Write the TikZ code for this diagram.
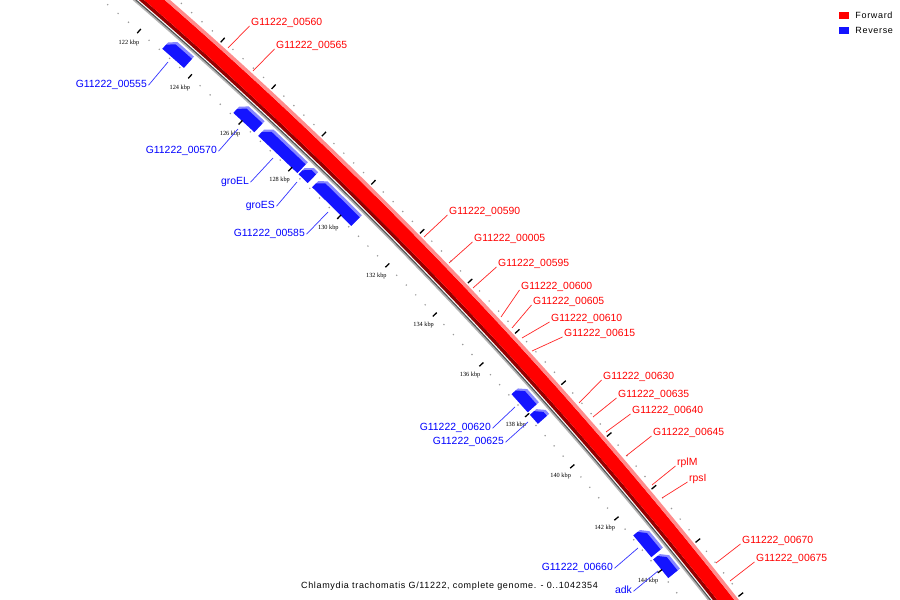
\documentclass[tikz,border=0pt]{standalone}
\usepackage{fontspec}
\setmainfont{Liberation Sans}
\newfontfamily\capfont[LetterSpace=7.5]{Liberation Sans}
\newfontfamily\kbpfont{Liberation Serif}
\usetikzlibrary{positioning}
\definecolor{fwdred}{RGB}{255,0,0}
\definecolor{fwdlight}{RGB}{255,140,140}
\definecolor{fwddark}{RGB}{150,0,0}
\definecolor{revblue}{RGB}{20,20,255}
\definecolor{revlight}{RGB}{135,135,255}
\definecolor{labred}{RGB}{255,0,0}
\definecolor{labblue}{RGB}{0,0,255}

% reverse gene box, from kbp #1 to kbp #2 (centre of the circle at origin)
\newcommand{\genebox}[2]{%
  \pgfmathsetmacro{\angS}{104.348-0.454*#1}%
  \pgfmathsetmacro{\angE}{104.348-0.454*#2}%
  \pgfmathsetmacro{\angC}{\angS-0.09}%
  \fill[revlight] (\angS:4312.5) arc[start angle=\angS, end angle=\angE, radius=4312.5] -- (\angE:4327.5) arc[start angle=\angE, end angle=\angC, radius=4327.5] -- (\angS:4321) -- cycle;
  \fill[revblue] (\angS:4312.5) arc[start angle=\angS, end angle=\angE, radius=4312.5] -- (\angE:4324.5) arc[start angle=\angE, end angle=\angC, radius=4324.5] -- (\angS:4318) -- cycle;
}

\begin{document}
\begin{tikzpicture}[x=1pt, y=1pt,
  fwdlabel/.style={text=labred, font=\fontsize{10.4}{12}\selectfont, inner sep=1.5pt, text height=7.5pt, text depth=2pt},
  revlabel/.style={text=labblue, font=\fontsize{10.4}{12}\selectfont, inner sep=1.5pt, text height=7.5pt, text depth=2pt},
  fwdlead/.style={draw=labred!85!white, line width=0.7pt},
  revlead/.style={draw=labblue!80!white, line width=0.7pt},
  kbplabel/.style={font=\kbpfont\fontsize{6.3}{7}\selectfont, inner sep=0pt},
  tickmaj/.style={black, line width=1.3pt},
  tickdot/.style={fill=gray!80},
  legtext/.style={font=\capfont\fontsize{9}{10}\selectfont, inner sep=0pt}]

\fill[white] (0,0) rectangle (900,600);
\useasboundingbox (0,0) rectangle (900,600);

\begin{scope}
\clip (0,0) rectangle (900,600);
\begin{scope}[shift={(-2691,-2682)}]
%Backbone
\draw[gray!60, line width=1.6pt] (51:4330.2) arc[start angle=51, end angle=36, radius=4330.2];
\draw[gray!65!black, line width=1.2pt] (51:4331.6) arc[start angle=51, end angle=36, radius=4331.6];

%Forward strand
\draw[fwddark, line width=3.5pt] (51:4335.25) arc[start angle=51, end angle=36, radius=4335.25];
\draw[fwdred, line width=13.5pt] (51:4343.75) arc[start angle=51, end angle=36, radius=4343.75];
\draw[fwdlight, line width=3.5pt] (51:4352.25) arc[start angle=51, end angle=36, radius=4352.25];

%Reverse strand
\genebox{122.86}{123.70}
\genebox{125.66}{126.49}
\genebox{126.65}{128.23}
\genebox{128.28}{128.65}
\genebox{128.83}{130.44}
\genebox{137.24}{137.95}
\genebox{138.05}{138.40}
\genebox{142.70}{143.52}
\genebox{143.61}{144.31}

%Ticks, every 0.4 kbp
\foreach \i in {0,...,65}{
  \pgfmathsetmacro{\ta}{49.868-0.1816*\i}
  \pgfmathtruncatemacro{\ismaj}{mod(\i,5)==0}
  \ifnum\ismaj=1
    \draw[tickmaj] (\ta:4307.5) -- (\ta:4313);
    \draw[tickmaj] (\ta:4356) -- (\ta:4362);
  \else
    \fill[tickdot] (\ta:4310) circle (0.85);
    \fill[tickdot] (\ta:4359) circle (0.85);
  \fi
}
\foreach \k in {122,124,...,144}{
  \pgfmathsetmacro{\ta}{104.348-0.454*\k}
  \node (kbp\k) [kbplabel] at (\ta:4295) {\k\ kbp};
}
\end{scope}
\end{scope}

%Forward labels
\coordinate (f560) at (228,552);
\coordinate (f565) at (253,529);
\coordinate (f590) at (424,363);
\coordinate (f005) at (449,337);
\coordinate (f595) at (473,312);
\coordinate (f600) at (501,283);
\coordinate (f605) at (512,272);
\coordinate (f610) at (522,262);
\coordinate (f615) at (532,249);
\coordinate (f630) at (579,197);
\coordinate (f635) at (593,183);
\coordinate (f640) at (606,168);
\coordinate (f645) at (626,144);
\coordinate (frplM) at (652,115);
\coordinate (frpsI) at (662,102);
\coordinate (f670) at (716,37);
\coordinate (f675) at (730,19);

\node (l560) [fwdlabel, anchor=base west] at (249.5,574) {G11222\_00560};
\node (l565) [fwdlabel, anchor=base west] at (274.5,551) {G11222\_00565};
\node (l590) [fwdlabel, anchor=base west] at (447.5,385) {G11222\_00590};
\node (l005) [fwdlabel, anchor=base west] at (472.5,358) {G11222\_00005};
\node (l595) [fwdlabel, anchor=base west] at (496.5,333) {G11222\_00595};
\node (l600) [fwdlabel, anchor=base west] at (519.5,310) {G11222\_00600};
\node (l605) [fwdlabel, anchor=base west] at (531.5,295) {G11222\_00605};
\node (l610) [fwdlabel, anchor=base west] at (549.5,278) {G11222\_00610};
\node (l615) [fwdlabel, anchor=base west] at (562.5,263) {G11222\_00615};
\node (l630) [fwdlabel, anchor=base west] at (601.5,220) {G11222\_00630};
\node (l635) [fwdlabel, anchor=base west] at (616.5,202) {G11222\_00635};
\node (l640) [fwdlabel, anchor=base west] at (630.5,186) {G11222\_00640};
\node (l645) [fwdlabel, anchor=base west] at (651.5,164) {G11222\_00645};
\node (lrplM) [fwdlabel, anchor=base west] at (675.5,134) {rplM};
\node (lrpsI) [fwdlabel, anchor=base west] at (687.5,118) {rpsI};
\node (l670) [fwdlabel, anchor=base west] at (740.5,56) {G11222\_00670};
\node (l675) [fwdlabel, anchor=base west] at (754.5,38) {G11222\_00675};

\foreach \g in {560,565,590,005,595,600,605,610,615,630,635,640,645,rplM,rpsI,670,675}
  \draw[fwdlead] (f\g) -- (l\g.base west);

%Reverse labels
\coordinate (r555) at (168,538);
\coordinate (r570) at (238,471);
\coordinate (rgroEL) at (273,442);
\coordinate (rgroES) at (297,418);
\coordinate (r585) at (328,388);
\coordinate (r620) at (515,193);
\coordinate (r625) at (528,178);
\coordinate (r660) at (638,52);
\coordinate (radk) at (658,29);

\node (l555) [revlabel, anchor=base east] at (148.5,512) {G11222\_00555};
\node (l570) [revlabel, anchor=base east] at (218.5,446) {G11222\_00570};
\node (lgroEL) [revlabel, anchor=base east] at (250.5,415) {groEL};
\node (lgroES) [revlabel, anchor=base east] at (276.5,391) {groES};
\node (l585) [revlabel, anchor=base east] at (306.5,363) {G11222\_00585};
\node (l620) [revlabel, anchor=base east] at (492.5,169) {G11222\_00620};
\node (l625) [revlabel, anchor=base east] at (505.5,155) {G11222\_00625};
\node (l660) [revlabel, anchor=base east] at (614.5,29) {G11222\_00660};
\node (ladk) [revlabel, anchor=base east] at (633.5,6) {adk};

\foreach \g in {555,570,groEL,groES,585,620,625,660,adk}
  \draw[revlead] (r\g) -- (l\g.east);

%Legend
\node (fwdkey) [fill=fwdred, minimum width=10pt, minimum height=7.6pt, inner sep=0pt] at (844,584.5) {};
\node (fwdtxt) [legtext, right=6pt of fwdkey] {Forward};
\node (revkey) [fill=revblue, minimum width=10pt, minimum height=7.6pt, inner sep=0pt] at (844,569.5) {};
\node (revtxt) [legtext, right=6pt of revkey] {Reverse};

%Caption
\node (caption) [legtext, anchor=base] at (449.5,11.7) {Chlamydia trachomatis G/11222, complete genome. - 0..1042354};
\end{tikzpicture}
\end{document}
